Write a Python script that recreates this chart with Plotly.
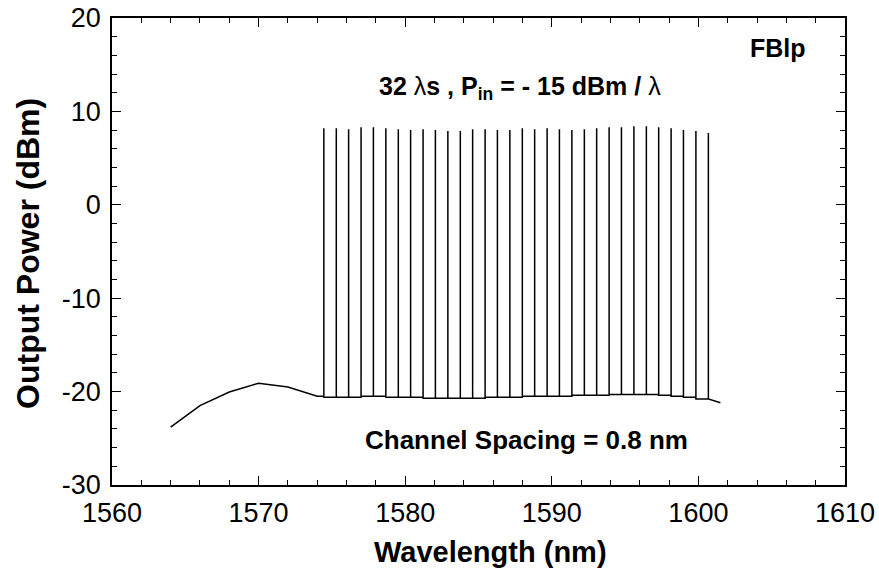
import plotly.graph_objects as go

# ---- data ----
ase_wl = [1564.0, 1566.0, 1568.0, 1570.0, 1572.0, 1574.0]
ase_dbm = [-23.8, -21.5, -20.05, -19.1, -19.5, -20.5]

peak_wl = [1574.45, 1575.30, 1576.14, 1576.99, 1577.83, 1578.68, 1579.53, 1580.37,
           1581.22, 1582.06, 1582.91, 1583.76, 1584.60, 1585.45, 1586.29, 1587.14,
           1587.99, 1588.83, 1589.68, 1590.52, 1591.37, 1592.22, 1593.06, 1593.91,
           1594.75, 1595.60, 1596.45, 1597.29, 1598.14, 1598.98, 1599.83, 1600.68]
peak_dbm = [8.2, 8.2, 8.1, 8.3, 8.3, 8.2, 8.1, 8.0,
            8.1, 8.0, 7.9, 7.9, 8.1, 8.1, 8.0, 8.0,
            8.2, 8.1, 8.2, 8.1, 8.0, 8.1, 8.2, 8.3,
            8.3, 8.4, 8.4, 8.3, 8.2, 8.0, 7.9, 7.7]
# noise floor between neighbouring channels (after each peak)
floor_dbm = [-20.6, -20.6, -20.6, -20.5, -20.5, -20.6, -20.6, -20.6,
             -20.7, -20.7, -20.7, -20.7, -20.7, -20.6, -20.6, -20.6,
             -20.5, -20.5, -20.5, -20.5, -20.4, -20.4, -20.4, -20.3,
             -20.3, -20.3, -20.3, -20.4, -20.5, -20.6, -20.8, -20.8]
tail_wl = [1601.5]
tail_dbm = [-21.2]

x_tick_vals = [1560, 1570, 1580, 1590, 1600, 1610]
x_tick_text = ["1560", "1570", "1580", "1590", "1600", "1610"]
y_tick_vals = [-30, -20, -10, 0, 10, 20]
y_tick_text = ["-30", "-20", "-10", "0", "10", "20"]

# ---- build spectrum ----
xs = list(ase_wl)
ys = list(ase_dbm)
prev_floor = ase_dbm[-1]
for wl, pk, fl in zip(peak_wl, peak_dbm, floor_dbm):
    xs += [wl, wl, wl]
    ys += [prev_floor, pk, fl]
    prev_floor = fl
xs += tail_wl
ys += tail_dbm

fig = go.Figure()
fig.add_trace(go.Scatter(x=xs, y=ys, mode="lines",
                         line=dict(color="black", width=1.5), showlegend=False,
                         hoverinfo="skip"))

FONT = "Liberation Sans, Arial, sans-serif"
axis_common = dict(
    showline=True, linecolor="black", linewidth=1.5, mirror="allticks",
    ticks="inside", ticklen=9, tickwidth=1.2, tickcolor="black",
    showgrid=False, zeroline=False, automargin=False,
    tickfont=dict(family=FONT, size=27, color="black"),
)
fig.update_xaxes(range=[1560, 1610], tickvals=x_tick_vals, ticktext=x_tick_text,
                 ticklabelstandoff=3,
                 minor=dict(dtick=2, tick0=1560, ticklen=5, ticks="inside", tickcolor="black", tickwidth=1.2),
                 **axis_common)
fig.update_yaxes(range=[-30, 20], tickvals=y_tick_vals, ticktext=y_tick_text,
                 ticklabelstandoff=4,
                 minor=dict(dtick=2, tick0=-30, ticklen=5, ticks="inside", tickcolor="black", tickwidth=1.2),
                 **axis_common)

# axis titles
fig.add_annotation(x=0.517, y=-0.1435, xref="paper", yref="paper", showarrow=False,
                   xanchor="center", yanchor="middle",
                   text="<b>Wavelength (nm)</b>", font=dict(family=FONT, size=29, color="black"))
fig.add_annotation(x=-0.1146, y=0.497, xref="paper", yref="paper", showarrow=False,
                   xanchor="center", yanchor="middle", textangle=-90,
                   text="<b>Output Power (dBm)</b>", font=dict(family=FONT, size=32, color="black"))

fig.add_annotation(x=1605.4, y=16.8, xref="x", yref="y", showarrow=False,
                   text="<b>FBlp</b>", font=dict(family=FONT, size=25, color="black"))
fig.add_annotation(x=1587.8, y=12.5, xref="x", yref="y", showarrow=False,
                   text="<b>32 </b>λ<b>s , P<sub>in</sub> = - 15 dBm / </b>λ",
                   font=dict(family=FONT, size=25, color="black"))
fig.add_annotation(x=1588.3, y=-25.2, xref="x", yref="y", showarrow=False,
                   text="<b>Channel Spacing = 0.8 nm</b>",
                   font=dict(family=FONT, size=26, color="black"))

fig.update_layout(width=879, height=574, margin=dict(l=112, r=34, t=18, b=89),
                  plot_bgcolor="white", paper_bgcolor="white")
fig.write_html("out.html")
